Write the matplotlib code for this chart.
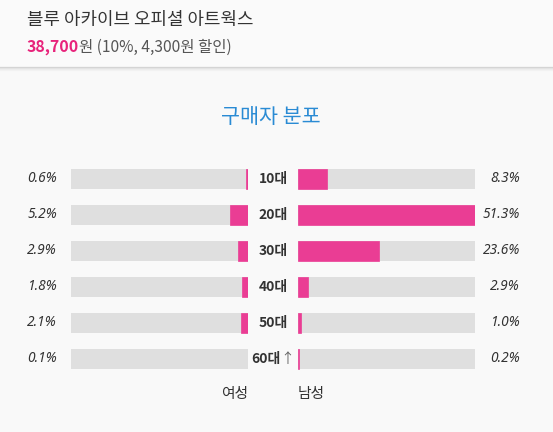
import matplotlib
matplotlib.use("Agg")
import matplotlib.pyplot as plt
from matplotlib.lines import Line2D

# ---- data ----
ages = ["10대", "20대", "30대", "40대", "50대", "60대"]
age_suffix = ["", "", "", "", "", "↑"]
female = [0.6, 5.2, 2.9, 1.8, 2.1, 0.1]
male = [8.3, 51.3, 23.6, 2.9, 1.0, 0.2]
female_labels = ["0.6%", "5.2%", "2.9%", "1.8%", "2.1%", "0.1%"]
male_labels = ["8.3%", "51.3%", "23.6%", "2.9%", "1.0%", "0.2%"]
product = "블루 아카이브 오피셜 아트웍스"
price = "38,700"
price_rest = "원 (10%, 4,300원 할인)"
chart_title = "구매자 분포"
side_labels = ["여성", "남성"]

W, H = 553, 432
BG = "#f9f9f9"
PINK = "#ea3d94"
TRACK = "#dfdfdf"
KR = ["Noto Sans CJK KR", "DejaVu Sans"]

fig = plt.figure(figsize=(W / 100, H / 100), dpi=100, facecolor=BG)

def fx(x):
    return x / W

def fy(y):
    return 1 - y / H

# header
fig.patches.append(plt.Rectangle((0, fy(67)), 1, 1 - fy(67), transform=fig.transFigure,
                                 facecolor="#fafafa", edgecolor="none", zorder=0))
for i, c in enumerate(["#d2d2d2", "#e2e2e2", "#ececec", "#f2f2f2"]):
    fig.add_artist(Line2D([0, 1], [fy(67 + i), fy(67 + i)], transform=fig.transFigure,
                          color=c, lw=0.9))
fig.text(fx(27), fy(20), product, family=KR, fontsize=12.9, color="#333333",
         ha="left", va="center")
t = fig.text(fx(27), fy(47), price, family=KR, fontsize=11.4, fontweight="bold",
             color="#e8237b", ha="left", va="center")
fig.canvas.draw()
r = fig.canvas.get_renderer()
bb = t.get_window_extent(r)
fig.text(bb.x1 / W, fy(47), price_rest, family=KR, fontsize=11.2,
         color="#555555", ha="left", va="center")

fig.text(fx(271), fy(117), chart_title, family=KR, fontsize=14.9, color="#2a8bd4",
         ha="center", va="center")

# bar axes
top, bottom = 161, 377
n = len(ages)
xmax = max(max(female), max(male))
axL = fig.add_axes([fx(71), fy(bottom), fx(248 - 71), (bottom - top) / H])
axR = fig.add_axes([fx(298), fy(bottom), fx(475 - 298), (bottom - top) / H])
ys = list(range(n))
for ax, vals in ((axL, female), (axR, male)):
    ax.set_facecolor("none")
    ax.barh(ys, [xmax] * n, height=0.56, color=TRACK, edgecolor="none")
    ax.barh(ys, vals, height=0.56, color=PINK, edgecolor=PINK, linewidth=0.5)
    ax.set_ylim(n - 0.5, -0.5)
    ax.set_xlim(0, xmax)
    ax.axis("off")
axL.invert_xaxis()

for i in range(n):
    yc = top + 18 + 36 * i
    fig.text(fx(57), fy(yc), female_labels[i], family=["Noto Sans", "DejaVu Sans"],
             style="italic", fontsize=9.9, color="#333333", ha="right", va="center")
    fig.text(fx(520), fy(yc), male_labels[i], family=["Noto Sans", "DejaVu Sans"],
             style="italic", fontsize=9.9, color="#333333", ha="right", va="center")
    a = fig.text(0, fy(yc), ages[i], family=KR, fontsize=10, fontweight="bold",
                 color="#333333", ha="left", va="center")
    wa = a.get_window_extent(r).width
    ws = 0
    s = None
    if age_suffix[i]:
        s = fig.text(0, fy(yc), age_suffix[i], family=KR, fontsize=10,
                     color="#666666", ha="left", va="center")
        ws = s.get_window_extent(r).width
    x0 = 273 - (wa + ws) / 2
    a.set_x(fx(x0))
    if s is not None:
        s.set_x(fx(x0 + wa))

fig.text(fx(248), fy(394), side_labels[0], family=KR, fontsize=10.6, color="#333333",
         ha="right", va="center")
fig.text(fx(298), fy(394), side_labels[1], family=KR, fontsize=10.6, color="#333333",
         ha="left", va="center")

fig.savefig("out.png", dpi=100, facecolor=BG)
